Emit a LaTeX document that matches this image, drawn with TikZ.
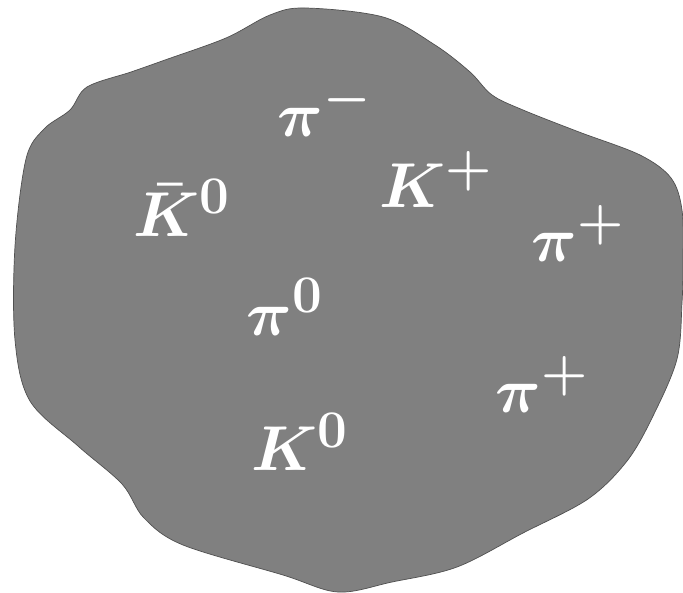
\documentclass[tikz,border=0pt]{standalone}
\usepackage{amsmath}
\begin{document}
\begin{tikzpicture}[x=1pt,y=-1pt,
  blob/.style={fill={rgb,255:red,128;green,128;blue,128},draw={rgb,255:red,80;green,80;blue,80},line width=0.7pt},
  particle/.style={text=white,inner sep=0pt,anchor=base west,scale=2.55,transform shape,font=\Huge\boldmath}]
\useasboundingbox (0,0) rectangle (683,593);
\draw[blob] plot[smooth cycle,tension=0.55] coordinates {
 (305,8) (383,17) (435,45) (470,72) (492,95) (523,110) (579,132) (640,155)
 (671,178) (682,210) (683,260) (682,303) (677,359) (653,416) (627,461)
 (588,499) (523,533) (457,567) (392,582) (338,592) (283,575) (183,545)
 (144,518) (122,484) (78,446) (30,401) (15,340) (15,246) (26,159)
 (44,129) (70,110) (87,87) (131,72) (165,60) (226,38) (270,15)};
\node[particle] (pim) at (277,137) {$\pi^-$};
\node[particle] (kbar) at (133,237) {$\bar{K}^0$};
\node[particle] (kp) at (379,208) {$K^+$};
\node[particle] (pip1) at (531,262) {$\pi^+$};
\node[particle] (pi0) at (246,336) {$\pi^0$};
\node[particle] (pip2) at (495,413) {$\pi^+$};
\node[particle] (k0) at (251,471) {$K^0$};
\end{tikzpicture}
\end{document}
